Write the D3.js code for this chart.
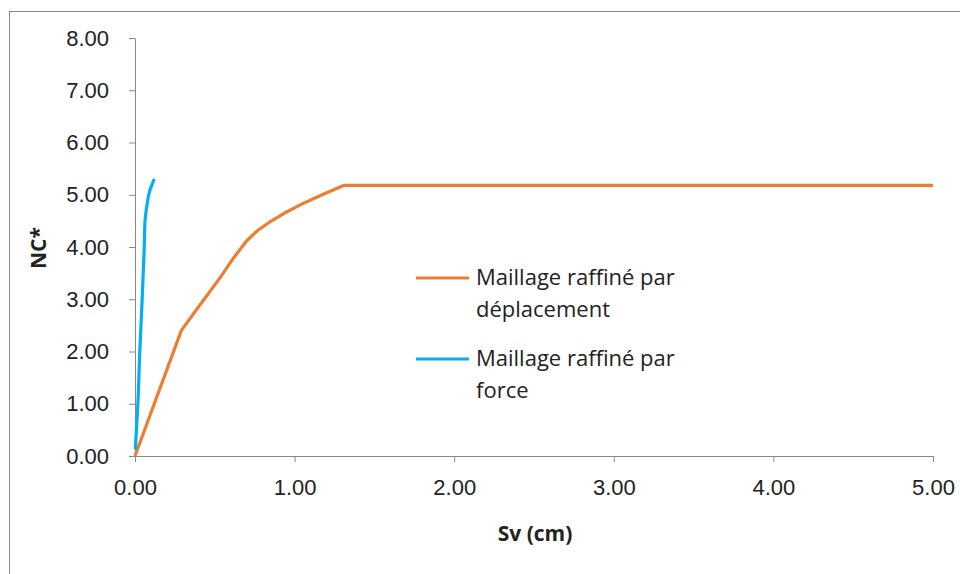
<!DOCTYPE html>
<html>
<head>
<meta charset="utf-8">
<script src="https://cdn.jsdelivr.net/npm/d3@7"></script>
<style>
  body { margin: 0; background: #fff; }
  svg { display: block; font-family: "Open Sans", sans-serif; }
  .axis path, .axis line { stroke: #898989; }
  .axis text { fill: #222; font-size: 22px; }
</style>
</head>
<body>
<div class="panel"></div>
<script>
const width = 960;
const height = 574;
const margins = {top: 38, right: 27, bottom: 118, left: 135};

// Sv (cm) / NC* for each mesh refinement
const deplacementSv = [0, 0.29, 0.38, 0.53, 0.62, 0.70, 0.77, 0.84, 0.95, 1.05, 1.18, 1.31, 5.00];
const deplacementNC = [0, 2.40, 2.78, 3.40, 3.80, 4.12, 4.32, 4.47, 4.67, 4.83, 5.01, 5.18, 5.18];
const forceSv = [0.002, 0.018, 0.030, 0.045, 0.058, 0.063, 0.075, 0.090, 0.118];
const forceNC = [0.15, 1.00, 2.00, 3.00, 4.00, 4.50, 4.80, 5.05, 5.28];

const xTicks = [0, 1, 2, 3, 4, 5];
const yTicks = [0, 1, 2, 3, 4, 5, 6, 7, 8];

const seriesNames = ["Maillage raffiné par|déplacement", "Maillage raffiné par|force"];
const colours = ["#ED7D31", "#00B0F0"];

const svg = d3.select(".panel")
  .append("svg")
  .attr("width", width)
  .attr("height", height);

// outer chart frame (runs off the right and bottom edges)
svg.append("rect")
  .attr("x", 9.5).attr("y", 11.5)
  .attr("width", 1000).attr("height", 1000)
  .attr("fill", "none").attr("stroke", "#898989");

const xScale = d3.scaleLinear()
  .domain([0, 5])
  .range([margins.left, width - margins.right]);

const yScale = d3.scaleLinear()
  .domain([0, 8])
  .range([height - margins.bottom, margins.top]);

const fmt = d3.format(".2f");

svg.append("g")
  .attr("class", "axis")
  .attr("transform", `translate(0, ${height - margins.bottom})`)
  .call(d3.axisBottom(xScale).tickValues(xTicks).tickFormat(fmt).tickSize(6).tickSizeOuter(0).tickPadding(17));

svg.append("g")
  .attr("class", "axis")
  .attr("transform", `translate(${margins.left}, 0)`)
  .call(d3.axisLeft(yScale).tickValues(yTicks).tickFormat(fmt).tickSize(6).tickSizeOuter(0).tickPadding(20));

const line = d3.line()
  .x(d => xScale(d[0]))
  .y(d => yScale(d[1]));

const lineY = d3.line()
  .x(d => xScale(d[0]))
  .y(d => yScale(d[1]))
  .curve(d3.curveMonotoneY);

const deplacement = deplacementSv.map((s, i) => [s, deplacementNC[i]]);
const force = forceSv.map((s, i) => [s, forceNC[i]]);

svg.append("path")
  .attr("d", line(deplacement))
  .attr("fill", "none")
  .attr("stroke", colours[0])
  .attr("stroke-width", 3.2)
  .attr("stroke-linejoin", "round");

svg.append("path")
  .attr("d", lineY(force))
  .attr("fill", "none")
  .attr("stroke", colours[1])
  .attr("stroke-width", 3.2)
  .attr("stroke-linecap", "round")
  .attr("stroke-linejoin", "round");

// axis titles
svg.append("text")
  .attr("x", 535).attr("y", 541)
  .attr("text-anchor", "middle")
  .attr("font-size", 21).attr("font-weight", "bold").attr("fill", "#222")
  .text("Sv (cm)");

svg.append("text")
  .attr("transform", "translate(46, 248) rotate(-90)")
  .attr("text-anchor", "middle")
  .attr("font-size", 21).attr("font-weight", "bold").attr("fill", "#222")
  .text("NC*");

// legend
const legend = svg.append("g");
const legendY = [278, 359];
seriesNames.forEach((name, i) => {
  legend.append("line")
    .attr("x1", 416).attr("x2", 469)
    .attr("y1", legendY[i]).attr("y2", legendY[i])
    .attr("stroke", colours[i]).attr("stroke-width", 3.2);
  const t = legend.append("text")
    .attr("x", 476).attr("y", legendY[i] + 7)
    .attr("font-size", 22).attr("fill", "#222");
  name.split("|").forEach((part, j) => {
    t.append("tspan").attr("x", 476).attr("dy", j === 0 ? 0 : 31.5).text(part);
  });
});
</script>
</body>
</html>
